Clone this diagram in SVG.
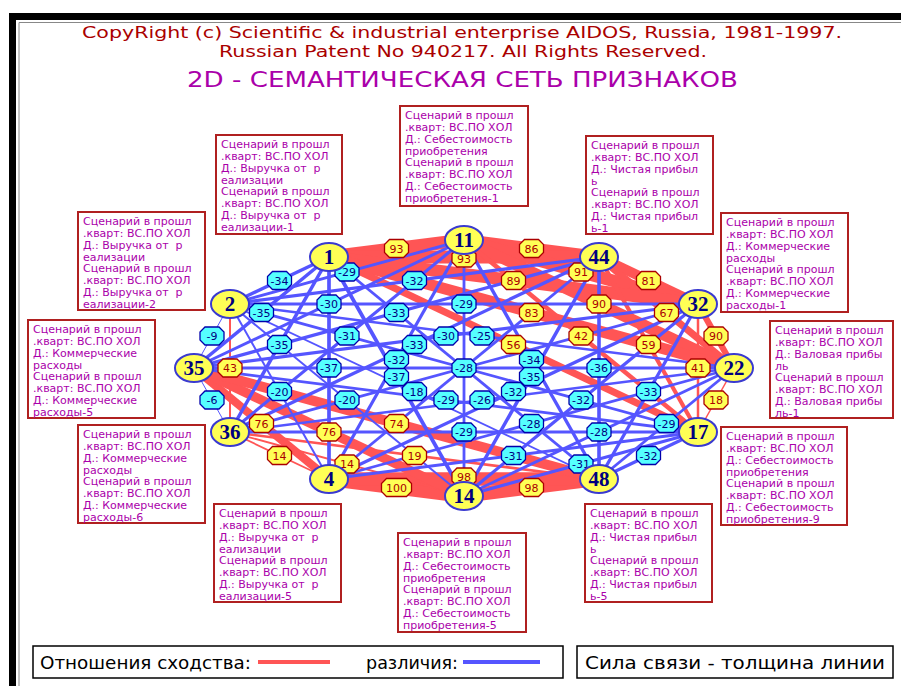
<svg xmlns="http://www.w3.org/2000/svg" xmlns:xlink="http://www.w3.org/1999/xlink" width="901" height="686" viewBox="0 0 901 686">
<style>
.hdr{font-family:"DejaVu Sans Condensed","Liberation Sans Narrow","Liberation Sans",sans-serif;fill:#aa0000;font-size:15px}
.ttl{font-family:"DejaVu Sans Condensed","Liberation Sans",sans-serif;fill:#aa00aa;font-size:22px}
.leg{font-family:"DejaVu Sans Condensed","Liberation Sans Narrow","Liberation Sans",sans-serif;fill:#000;font-size:18px}
.r{stroke:#ff5555;stroke-linecap:butt}
.b{stroke:#5555ff;stroke-linecap:butt}
.ly{fill:#ffff55;stroke:#aa0000;stroke-width:1.3}
.lc{fill:#55ffff;stroke:#0000aa;stroke-width:1.3}
.ty{font-family:"DejaVu Sans","Liberation Sans",sans-serif;font-size:11px;fill:#aa0000;text-anchor:middle}
.tc{font-family:"DejaVu Sans","Liberation Sans",sans-serif;font-size:11px;fill:#000080;text-anchor:middle}
.node ellipse{fill:#ffff55;stroke:#3a3ad0;stroke-width:2}
.node text{font-family:"Liberation Serif",serif;font-weight:bold;font-size:21px;fill:#000080;text-anchor:middle}
.box rect{fill:#fff;stroke:#b02020;stroke-width:2}
.box text{font-family:"DejaVu Sans","Liberation Sans",sans-serif;font-size:11px;fill:#aa00aa}
.frame{fill:none;stroke:#000;stroke-width:1.5}
</style>
<defs>
<path id="oct" d="M-7,-9H7L12,-4V4L7,9H-7L-12,4V-4Z"/>
<path id="oct3" d="M-10,-9H10L15,-4V4L10,9H-10L-15,4V-4Z"/>
</defs>
<rect width="901" height="686" fill="#fff"/>
<rect x="9" y="13" width="892" height="7" fill="#000"/>
<rect x="9" y="13" width="7" height="673" fill="#000"/>
<path d="M19,686V22.5H901" fill="none" stroke="#888" stroke-width="1"/>

<text class="hdr" x="82" y="38" textLength="760" lengthAdjust="spacingAndGlyphs">CopyRight (c) Scientific &amp; industrial enterprise AIDOS, Russia, 1981-1997.</text>
<text class="hdr" x="219" y="57" textLength="488" lengthAdjust="spacingAndGlyphs">Russian Patent No 940217. All Rights Reserved.</text>
<text class="ttl" x="187" y="87" textLength="551" lengthAdjust="spacingAndGlyphs">2D - СЕМАНТИЧЕСКАЯ СЕТЬ ПРИЗНАКОВ</text>

<g id="connectors">
<g id="similar">
<line class="r" x1="329" y1="257" x2="464" y2="240" stroke-width="12.9"/>
<line class="r" x1="464" y1="240" x2="599" y2="257" stroke-width="11.9"/>
<line class="r" x1="599" y1="257" x2="698" y2="304" stroke-width="10.2"/>
<line class="r" x1="698" y1="304" x2="734" y2="368" stroke-width="6.2"/>
<line class="r" x1="734" y1="368" x2="698" y2="432" stroke-width="1.5"/>
<line class="r" x1="599" y1="479" x2="464" y2="496" stroke-width="13.6"/>
<line class="r" x1="464" y1="496" x2="329" y2="479" stroke-width="13.9"/>
<line class="r" x1="329" y1="479" x2="230" y2="432" stroke-width="1.8"/>
<line class="r" x1="329" y1="257" x2="599" y2="257" stroke-width="13"/>
<line class="r" x1="464" y1="240" x2="698" y2="304" stroke-width="12.3"/>
<line class="r" x1="599" y1="257" x2="734" y2="368" stroke-width="7.2"/>
<line class="r" x1="698" y1="304" x2="698" y2="432" stroke-width="2.5"/>
<line class="r" x1="599" y1="479" x2="329" y2="479" stroke-width="13.7"/>
<line class="r" x1="464" y1="496" x2="230" y2="432" stroke-width="1.9"/>
<line class="r" x1="329" y1="479" x2="194" y2="368" stroke-width="8.2"/>
<line class="r" x1="230" y1="432" x2="230" y2="304" stroke-width="2"/>
<line class="r" x1="329" y1="257" x2="698" y2="304" stroke-width="12.4"/>
<line class="r" x1="464" y1="240" x2="734" y2="368" stroke-width="11.4"/>
<line class="r" x1="599" y1="257" x2="698" y2="432" stroke-width="4.1"/>
<line class="r" x1="599" y1="479" x2="230" y2="432" stroke-width="2.6"/>
<line class="r" x1="464" y1="496" x2="194" y2="368" stroke-width="9.6"/>
<line class="r" x1="329" y1="257" x2="734" y2="368" stroke-width="11.2"/>
<line class="r" x1="464" y1="240" x2="698" y2="432" stroke-width="4.5"/>
<line class="r" x1="599" y1="479" x2="194" y2="368" stroke-width="10"/>
<line class="r" x1="329" y1="257" x2="698" y2="432" stroke-width="7.1"/>
</g>
<g id="different">
<line class="b" x1="698" y1="432" x2="599" y2="479" stroke-width="3.2"/>
<line class="b" x1="230" y1="432" x2="194" y2="368" stroke-width="1"/>
<line class="b" x1="194" y1="368" x2="230" y2="304" stroke-width="1"/>
<line class="b" x1="230" y1="304" x2="329" y2="257" stroke-width="3.4"/>
<line class="b" x1="734" y1="368" x2="599" y2="479" stroke-width="2.9"/>
<line class="b" x1="698" y1="432" x2="464" y2="496" stroke-width="3.1"/>
<line class="b" x1="194" y1="368" x2="329" y2="257" stroke-width="3.5"/>
<line class="b" x1="230" y1="304" x2="464" y2="240" stroke-width="2.9"/>
<line class="b" x1="698" y1="304" x2="599" y2="479" stroke-width="3.3"/>
<line class="b" x1="734" y1="368" x2="464" y2="496" stroke-width="2.8"/>
<line class="b" x1="698" y1="432" x2="329" y2="479" stroke-width="3.1"/>
<line class="b" x1="329" y1="479" x2="230" y2="304" stroke-width="2"/>
<line class="b" x1="230" y1="432" x2="329" y2="257" stroke-width="3.5"/>
<line class="b" x1="194" y1="368" x2="464" y2="240" stroke-width="3"/>
<line class="b" x1="230" y1="304" x2="599" y2="257" stroke-width="3.2"/>
<line class="b" x1="599" y1="257" x2="599" y2="479" stroke-width="3.6"/>
<line class="b" x1="698" y1="304" x2="464" y2="496" stroke-width="3.2"/>
<line class="b" x1="734" y1="368" x2="329" y2="479" stroke-width="2.8"/>
<line class="b" x1="698" y1="432" x2="230" y2="432" stroke-width="2.9"/>
<line class="b" x1="464" y1="496" x2="230" y2="304" stroke-width="2"/>
<line class="b" x1="329" y1="479" x2="329" y2="257" stroke-width="3.7"/>
<line class="b" x1="230" y1="432" x2="464" y2="240" stroke-width="3.1"/>
<line class="b" x1="194" y1="368" x2="599" y2="257" stroke-width="3.3"/>
<line class="b" x1="230" y1="304" x2="698" y2="304" stroke-width="2.9"/>
<line class="b" x1="464" y1="240" x2="599" y2="479" stroke-width="3.4"/>
<line class="b" x1="599" y1="257" x2="464" y2="496" stroke-width="3.5"/>
<line class="b" x1="698" y1="304" x2="329" y2="479" stroke-width="3.2"/>
<line class="b" x1="734" y1="368" x2="230" y2="432" stroke-width="2.6"/>
<line class="b" x1="698" y1="432" x2="194" y2="368" stroke-width="2.9"/>
<line class="b" x1="599" y1="479" x2="230" y2="304" stroke-width="1.8"/>
<line class="b" x1="464" y1="496" x2="329" y2="257" stroke-width="3.7"/>
<line class="b" x1="329" y1="479" x2="464" y2="240" stroke-width="3.2"/>
<line class="b" x1="230" y1="432" x2="599" y2="257" stroke-width="3.3"/>
<line class="b" x1="194" y1="368" x2="698" y2="304" stroke-width="3"/>
<line class="b" x1="230" y1="304" x2="734" y2="368" stroke-width="2.5"/>
<line class="b" x1="329" y1="257" x2="599" y2="479" stroke-width="2.8"/>
<line class="b" x1="464" y1="240" x2="464" y2="496" stroke-width="2.8"/>
<line class="b" x1="599" y1="257" x2="329" y2="479" stroke-width="2.8"/>
<line class="b" x1="698" y1="304" x2="230" y2="432" stroke-width="2.8"/>
<line class="b" x1="734" y1="368" x2="194" y2="368" stroke-width="2.8"/>
<line class="b" x1="698" y1="432" x2="230" y2="304" stroke-width="2.8"/>
</g>
</g>

<g id="weights">
<use href="#oct" class="ly" x="396.5" y="248.5"/><text class="ty" x="396.5" y="252.5">93</text>
<use href="#oct" class="ly" x="531.5" y="248.5"/><text class="ty" x="531.5" y="252.5">86</text>
<use href="#oct" class="ly" x="648.5" y="280.5"/><text class="ty" x="648.5" y="284.5">81</text>
<use href="#oct" class="ly" x="716" y="336"/><text class="ty" x="716" y="340">90</text>
<use href="#oct" class="ly" x="716" y="400"/><text class="ty" x="716" y="404">18</text>
<use href="#oct" class="ly" x="531.5" y="487.5"/><text class="ty" x="531.5" y="491.5">98</text>
<use href="#oct3" class="ly" x="396.5" y="487.5"/><text class="ty" x="396.5" y="491.5">100</text>
<use href="#oct" class="ly" x="279.5" y="455.5"/><text class="ty" x="279.5" y="459.5">14</text>
<use href="#oct" class="ly" x="464" y="258"/><text class="ty" x="464" y="262.5">93</text>
<use href="#oct" class="ly" x="581" y="272"/><text class="ty" x="581" y="276">91</text>
<use href="#oct" class="ly" x="666.5" y="312.5"/><text class="ty" x="666.5" y="316.5">67</text>
<use href="#oct" class="ly" x="698" y="368"/><text class="ty" x="698" y="372">41</text>
<use href="#oct" class="ly" x="464" y="477"/><text class="ty" x="464" y="480.5">98</text>
<use href="#oct" class="ly" x="347" y="464"/><text class="ty" x="347" y="468">14</text>
<use href="#oct" class="ly" x="261.5" y="423.5"/><text class="ty" x="261.5" y="427.5">76</text>
<use href="#oct" class="ly" x="230" y="368"/><text class="ty" x="230" y="372">43</text>
<use href="#oct" class="ly" x="513.5" y="280.5"/><text class="ty" x="513.5" y="284.5">89</text>
<use href="#oct" class="ly" x="599" y="304"/><text class="ty" x="599" y="308">90</text>
<use href="#oct" class="ly" x="648.5" y="344.5"/><text class="ty" x="648.5" y="348.5">59</text>
<use href="#oct" class="ly" x="414.5" y="455.5"/><text class="ty" x="414.5" y="459.5">19</text>
<use href="#oct" class="ly" x="329" y="432"/><text class="ty" x="329" y="436">76</text>
<use href="#oct" class="ly" x="531.5" y="312.5"/><text class="ty" x="531.5" y="316.5">83</text>
<use href="#oct" class="ly" x="581" y="336"/><text class="ty" x="581" y="340">42</text>
<use href="#oct" class="ly" x="396.5" y="423.5"/><text class="ty" x="396.5" y="427.5">74</text>
<use href="#oct" class="ly" x="513.5" y="344.5"/><text class="ty" x="513.5" y="348.5">56</text>

<use href="#oct" class="lc" x="648.5" y="455.5"/><text class="tc" x="648.5" y="459.5">-32</text>
<use href="#oct" class="lc" x="212" y="400"/><text class="tc" x="212" y="404">-6</text>
<use href="#oct" class="lc" x="212" y="336"/><text class="tc" x="212" y="340">-9</text>
<use href="#oct" class="lc" x="279.5" y="280.5"/><text class="tc" x="279.5" y="284.5">-34</text>
<use href="#oct" class="lc" x="666.5" y="423.5"/><text class="tc" x="666.5" y="427.5">-29</text>
<use href="#oct" class="lc" x="581" y="464"/><text class="tc" x="581" y="468">-31</text>
<use href="#oct" class="lc" x="261.5" y="312.5"/><text class="tc" x="261.5" y="316.5">-35</text>
<use href="#oct" class="lc" x="347" y="272"/><text class="tc" x="347" y="276">-29</text>
<use href="#oct" class="lc" x="648.5" y="391.5"/><text class="tc" x="648.5" y="395.5">-33</text>
<use href="#oct" class="lc" x="599" y="432"/><text class="tc" x="599" y="436">-28</text>
<use href="#oct" class="lc" x="513.5" y="455.5"/><text class="tc" x="513.5" y="459.5">-31</text>
<use href="#oct" class="lc" x="279.5" y="391.5"/><text class="tc" x="279.5" y="395.5">-20</text>
<use href="#oct" class="lc" x="279.5" y="344.5"/><text class="tc" x="279.5" y="348.5">-35</text>
<use href="#oct" class="lc" x="329" y="304"/><text class="tc" x="329" y="308">-30</text>
<use href="#oct" class="lc" x="414.5" y="280.5"/><text class="tc" x="414.5" y="284.5">-32</text>
<use href="#oct" class="lc" x="599" y="368"/><text class="tc" x="599" y="372">-36</text>
<use href="#oct" class="lc" x="581" y="400"/><text class="tc" x="581" y="404">-32</text>
<use href="#oct" class="lc" x="531.5" y="423.5"/><text class="tc" x="531.5" y="427.5">-28</text>
<use href="#oct" class="lc" x="464" y="432"/><text class="tc" x="464" y="436">-29</text>
<use href="#oct" class="lc" x="347" y="400"/><text class="tc" x="347" y="404">-20</text>
<use href="#oct" class="lc" x="329" y="368"/><text class="tc" x="329" y="372">-37</text>
<use href="#oct" class="lc" x="347" y="336"/><text class="tc" x="347" y="340">-31</text>
<use href="#oct" class="lc" x="396.5" y="312.5"/><text class="tc" x="396.5" y="316.5">-33</text>
<use href="#oct" class="lc" x="464" y="304"/><text class="tc" x="464" y="308">-29</text>
<use href="#oct" class="lc" x="531.5" y="359.5"/><text class="tc" x="531.5" y="363.5">-34</text>
<use href="#oct" class="lc" x="531.5" y="376.5"/><text class="tc" x="531.5" y="380.5">-35</text>
<use href="#oct" class="lc" x="513.5" y="391.5"/><text class="tc" x="513.5" y="395.5">-32</text>
<use href="#oct" class="lc" x="482" y="400"/><text class="tc" x="482" y="404">-26</text>
<use href="#oct" class="lc" x="446" y="400"/><text class="tc" x="446" y="404">-29</text>
<use href="#oct" class="lc" x="414.5" y="391.5"/><text class="tc" x="414.5" y="395.5">-18</text>
<use href="#oct" class="lc" x="396.5" y="376.5"/><text class="tc" x="396.5" y="380.5">-37</text>
<use href="#oct" class="lc" x="396.5" y="359.5"/><text class="tc" x="396.5" y="363.5">-32</text>
<use href="#oct" class="lc" x="414.5" y="344.5"/><text class="tc" x="414.5" y="348.5">-33</text>
<use href="#oct" class="lc" x="446" y="336"/><text class="tc" x="446" y="340">-30</text>
<use href="#oct" class="lc" x="482" y="336"/><text class="tc" x="482" y="340">-25</text>
<use href="#oct" class="lc" x="464" y="368" stroke="#000080" stroke-width="2.2"/><text class="tc" x="464" y="372">-28</text>
</g>

<g id="n1" class="node"><ellipse cx="329" cy="257" rx="19" ry="14"/><text x="329" y="264">1</text></g>
<g id="n11" class="node"><ellipse cx="464" cy="240" rx="19" ry="14"/><text x="464" y="247">11</text></g>
<g id="n44" class="node"><ellipse cx="599" cy="257" rx="19" ry="14"/><text x="599" y="264">44</text></g>
<g id="n32" class="node"><ellipse cx="698" cy="304" rx="19" ry="14"/><text x="698" y="311">32</text></g>
<g id="n22" class="node"><ellipse cx="734" cy="368" rx="19" ry="14"/><text x="734" y="375">22</text></g>
<g id="n17" class="node"><ellipse cx="698" cy="432" rx="19" ry="14"/><text x="698" y="439">17</text></g>
<g id="n48" class="node"><ellipse cx="599" cy="479" rx="19" ry="14"/><text x="599" y="486">48</text></g>
<g id="n14" class="node"><ellipse cx="464" cy="496" rx="19" ry="14"/><text x="464" y="503">14</text></g>
<g id="n4" class="node"><ellipse cx="329" cy="479" rx="19" ry="14"/><text x="329" y="486">4</text></g>
<g id="n36" class="node"><ellipse cx="230" cy="432" rx="19" ry="14"/><text x="230" y="439">36</text></g>
<g id="n35" class="node"><ellipse cx="194" cy="368" rx="19" ry="14"/><text x="194" y="375">35</text></g>
<g id="n2" class="node"><ellipse cx="230" cy="304" rx="19" ry="14"/><text x="230" y="311">2</text></g>

<g id="box-1" class="box"><rect x="216" y="135" width="126" height="99"/>
<text xml:space="preserve" x="221" y="148"><tspan x="221">Сценарий в прошл</tspan><tspan x="221" dy="11.85">.кварт: ВС.ПО ХОЛ</tspan><tspan x="221" dy="11.85">Д.: Выручка от  р</tspan><tspan x="221" dy="11.85">еализации</tspan><tspan x="221" dy="11.85">Сценарий в прошл</tspan><tspan x="221" dy="11.85">.кварт: ВС.ПО ХОЛ</tspan><tspan x="221" dy="11.85">Д.: Выручка от  р</tspan><tspan x="221" dy="11.85">еализации-1</tspan></text></g>
<g id="box-11" class="box"><rect x="400" y="106" width="128" height="100"/>
<text x="405" y="119"><tspan x="405">Сценарий в прошл</tspan><tspan x="405" dy="11.85">.кварт: ВС.ПО ХОЛ</tspan><tspan x="405" dy="11.85">Д.: Себестоимость</tspan><tspan x="405" dy="11.85">приобретения</tspan><tspan x="405" dy="11.85">Сценарий в прошл</tspan><tspan x="405" dy="11.85">.кварт: ВС.ПО ХОЛ</tspan><tspan x="405" dy="11.85">Д.: Себестоимость</tspan><tspan x="405" dy="11.85">приобретения-1</tspan></text></g>
<g id="box-44" class="box"><rect x="586" y="136" width="127" height="98"/>
<text x="591" y="149"><tspan x="591">Сценарий в прошл</tspan><tspan x="591" dy="11.85">.кварт: ВС.ПО ХОЛ</tspan><tspan x="591" dy="11.85">Д.: Чистая прибыл</tspan><tspan x="591" dy="11.85">ь</tspan><tspan x="591" dy="11.85">Сценарий в прошл</tspan><tspan x="591" dy="11.85">.кварт: ВС.ПО ХОЛ</tspan><tspan x="591" dy="11.85">Д.: Чистая прибыл</tspan><tspan x="591" dy="11.85">ь-1</tspan></text></g>
<g id="box-32" class="box"><rect x="721" y="213" width="127" height="99"/>
<text x="726" y="226"><tspan x="726">Сценарий в прошл</tspan><tspan x="726" dy="11.85">.кварт: ВС.ПО ХОЛ</tspan><tspan x="726" dy="11.85">Д.: Коммерческие</tspan><tspan x="726" dy="11.85">расходы</tspan><tspan x="726" dy="11.85">Сценарий в прошл</tspan><tspan x="726" dy="11.85">.кварт: ВС.ПО ХОЛ</tspan><tspan x="726" dy="11.85">Д.: Коммерческие</tspan><tspan x="726" dy="11.85">расходы-1</tspan></text></g>
<g id="box-22" class="box"><rect x="770" y="321" width="123" height="97"/>
<text x="775" y="334"><tspan x="775">Сценарий в прошл</tspan><tspan x="775" dy="11.85">.кварт: ВС.ПО ХОЛ</tspan><tspan x="775" dy="11.85">Д.: Валовая прибы</tspan><tspan x="775" dy="11.85">ль</tspan><tspan x="775" dy="11.85">Сценарий в прошл</tspan><tspan x="775" dy="11.85">.кварт: ВС.ПО ХОЛ</tspan><tspan x="775" dy="11.85">Д.: Валовая прибы</tspan><tspan x="775" dy="11.85">ль-1</tspan></text></g>
<g id="box-17" class="box"><rect x="721" y="427" width="126" height="98"/>
<text x="726" y="440"><tspan x="726">Сценарий в прошл</tspan><tspan x="726" dy="11.85">.кварт: ВС.ПО ХОЛ</tspan><tspan x="726" dy="11.85">Д.: Себестоимость</tspan><tspan x="726" dy="11.85">приобретения</tspan><tspan x="726" dy="11.85">Сценарий в прошл</tspan><tspan x="726" dy="11.85">.кварт: ВС.ПО ХОЛ</tspan><tspan x="726" dy="11.85">Д.: Себестоимость</tspan><tspan x="726" dy="11.85">приобретения-9</tspan></text></g>
<g id="box-48" class="box"><rect x="585" y="504" width="127" height="98"/>
<text x="590" y="517"><tspan x="590">Сценарий в прошл</tspan><tspan x="590" dy="11.85">.кварт: ВС.ПО ХОЛ</tspan><tspan x="590" dy="11.85">Д.: Чистая прибыл</tspan><tspan x="590" dy="11.85">ь</tspan><tspan x="590" dy="11.85">Сценарий в прошл</tspan><tspan x="590" dy="11.85">.кварт: ВС.ПО ХОЛ</tspan><tspan x="590" dy="11.85">Д.: Чистая прибыл</tspan><tspan x="590" dy="11.85">ь-5</tspan></text></g>
<g id="box-14" class="box"><rect x="398" y="533" width="128" height="99"/>
<text x="403" y="546"><tspan x="403">Сценарий в прошл</tspan><tspan x="403" dy="11.85">.кварт: ВС.ПО ХОЛ</tspan><tspan x="403" dy="11.85">Д.: Себестоимость</tspan><tspan x="403" dy="11.85">приобретения</tspan><tspan x="403" dy="11.85">Сценарий в прошл</tspan><tspan x="403" dy="11.85">.кварт: ВС.ПО ХОЛ</tspan><tspan x="403" dy="11.85">Д.: Себестоимость</tspan><tspan x="403" dy="11.85">приобретения-5</tspan></text></g>
<g id="box-4" class="box"><rect x="214" y="504" width="127" height="98"/>
<text xml:space="preserve" x="219" y="517"><tspan x="219">Сценарий в прошл</tspan><tspan x="219" dy="11.85">.кварт: ВС.ПО ХОЛ</tspan><tspan x="219" dy="11.85">Д.: Выручка от  р</tspan><tspan x="219" dy="11.85">еализации</tspan><tspan x="219" dy="11.85">Сценарий в прошл</tspan><tspan x="219" dy="11.85">.кварт: ВС.ПО ХОЛ</tspan><tspan x="219" dy="11.85">Д.: Выручка от  р</tspan><tspan x="219" dy="11.85">еализации-5</tspan></text></g>
<g id="box-36" class="box"><rect x="78" y="425" width="127" height="98"/>
<text x="83" y="438"><tspan x="83">Сценарий в прошл</tspan><tspan x="83" dy="11.85">.кварт: ВС.ПО ХОЛ</tspan><tspan x="83" dy="11.85">Д.: Коммерческие</tspan><tspan x="83" dy="11.85">расходы</tspan><tspan x="83" dy="11.85">Сценарий в прошл</tspan><tspan x="83" dy="11.85">.кварт: ВС.ПО ХОЛ</tspan><tspan x="83" dy="11.85">Д.: Коммерческие</tspan><tspan x="83" dy="11.85">расходы-6</tspan></text></g>
<g id="box-35" class="box"><rect x="28" y="320" width="127" height="98"/>
<text x="33" y="333"><tspan x="33">Сценарий в прошл</tspan><tspan x="33" dy="11.85">.кварт: ВС.ПО ХОЛ</tspan><tspan x="33" dy="11.85">Д.: Коммерческие</tspan><tspan x="33" dy="11.85">расходы</tspan><tspan x="33" dy="11.85">Сценарий в прошл</tspan><tspan x="33" dy="11.85">.кварт: ВС.ПО ХОЛ</tspan><tspan x="33" dy="11.85">Д.: Коммерческие</tspan><tspan x="33" dy="11.85">расходы-5</tspan></text></g>
<g id="box-2" class="box"><rect x="78" y="212" width="127" height="98"/>
<text xml:space="preserve" x="83" y="225"><tspan x="83">Сценарий в прошл</tspan><tspan x="83" dy="11.85">.кварт: ВС.ПО ХОЛ</tspan><tspan x="83" dy="11.85">Д.: Выручка от  р</tspan><tspan x="83" dy="11.85">еализации</tspan><tspan x="83" dy="11.85">Сценарий в прошл</tspan><tspan x="83" dy="11.85">.кварт: ВС.ПО ХОЛ</tspan><tspan x="83" dy="11.85">Д.: Выручка от  р</tspan><tspan x="83" dy="11.85">еализации-2</tspan></text></g>

<g id="legend">
<rect class="frame" x="33" y="646" width="530" height="32"/>
<text class="leg" x="40" y="669" textLength="211" lengthAdjust="spacingAndGlyphs">Отношения сходства:</text>
<line x1="258" y1="662" x2="330" y2="662" stroke="#ff5555" stroke-width="4"/>
<text class="leg" x="366" y="669" textLength="92" lengthAdjust="spacingAndGlyphs">различия:</text>
<line x1="463" y1="662" x2="540" y2="662" stroke="#5555ff" stroke-width="4"/>
<rect class="frame" x="577" y="646" width="316" height="32"/>
<text class="leg" x="585" y="669" textLength="300" lengthAdjust="spacingAndGlyphs">Сила связи - толщина линии</text>
</g>
</svg>
